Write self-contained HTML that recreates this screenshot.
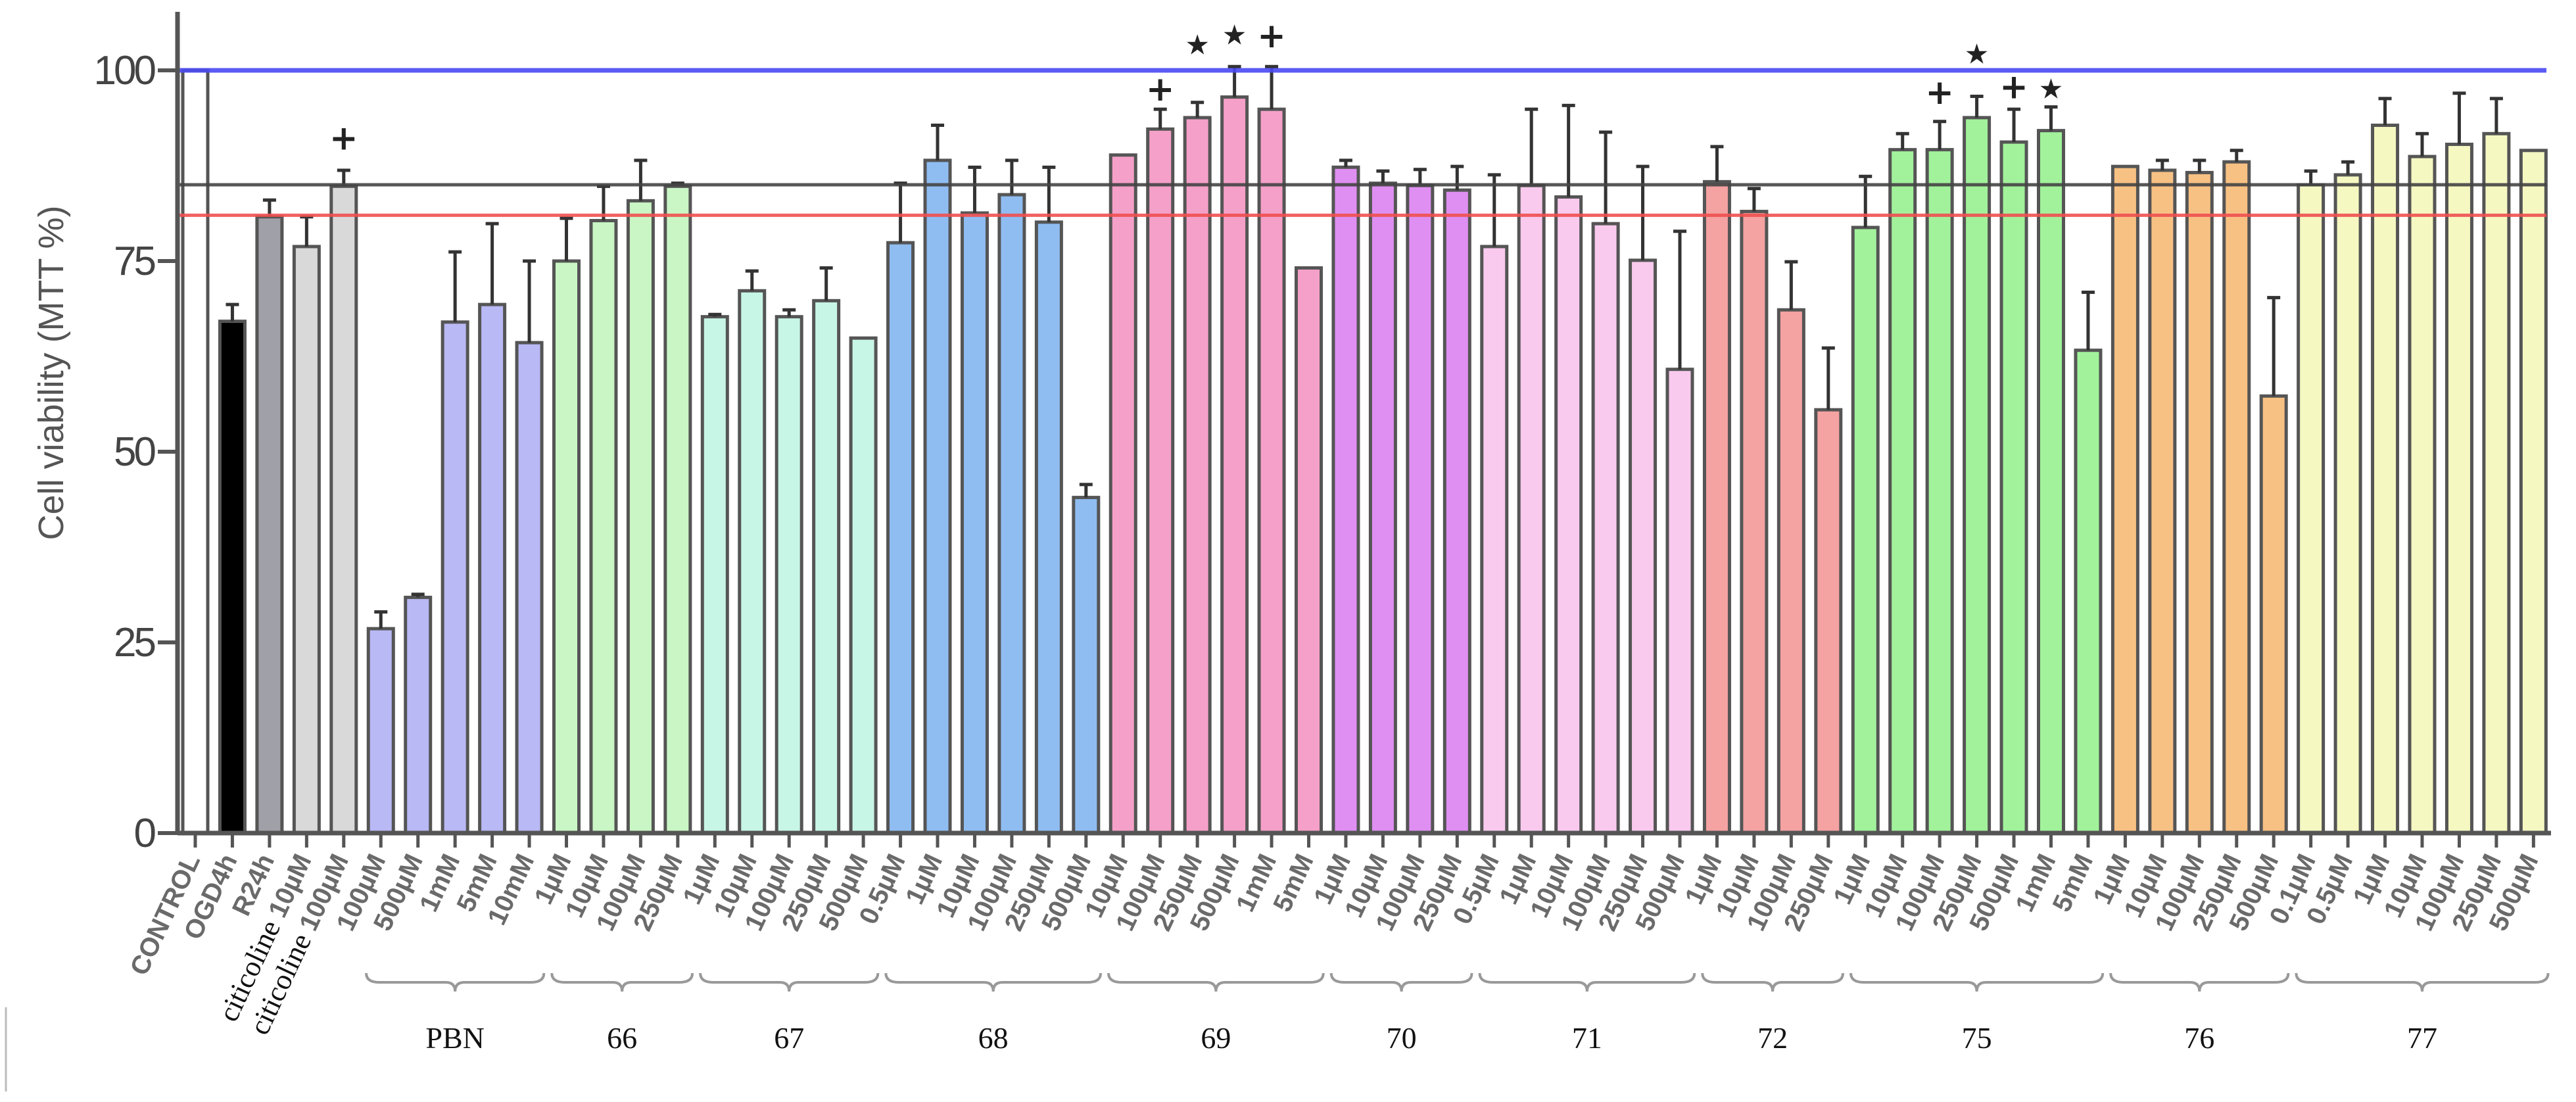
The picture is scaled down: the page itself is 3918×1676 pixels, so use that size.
<!DOCTYPE html>
<html><head><meta charset="utf-8"><style>
html,body{margin:0;padding:0;background:#fff;}
svg{display:block;}
</style></head><body>
<svg id="chart" width="3918" height="1676" viewBox="0 0 3918 1676" xmlns="http://www.w3.org/2000/svg"></svg>
<script>
const labels = ["CONTROL","OGD4h","R24h","10µM","100µM",
"100µM","500µM","1mM","5mM","10mM",
"1µM","10µM","100µM","250µM",
"1µM","10µM","100µM","250µM","500µM",
"0.5µM","1µM","10µM","100µM","250µM","500µM",
"10µM","100µM","250µM","500µM","1mM","5mM",
"1µM","10µM","100µM","250µM",
"0.5µM","1µM","10µM","100µM","250µM","500µM",
"1µM","10µM","100µM","250µM",
"1µM","10µM","100µM","250µM","500µM","1mM","5mM",
"1µM","10µM","100µM","250µM","500µM",
"0.1µM","0.5µM","1µM","10µM","100µM","250µM","500µM"];
const values = [100,67.1,80.8,76.9,84.8,
26.8,30.9,67,69.3,64.3,
75,80.3,82.9,84.8,
67.7,71.1,67.7,69.8,64.9,
77.4,88.2,81.3,83.7,80.1,44,
88.9,92.3,93.8,96.5,94.9,74.1,
87.3,85.2,84.9,84.3,
76.9,84.9,83.4,79.9,75.1,60.8,
85.4,81.5,68.6,55.5,
79.4,89.6,89.6,93.8,90.6,92.1,63.3,
87.4,86.9,86.6,88,57.3,
85,86.3,92.8,88.7,90.3,91.7,89.5];
const errTop = [null,69.3,83,80.8,86.9,
29,31.3,76.2,79.9,75,
80.6,84.8,88.2,85.2,
68,73.7,68.6,74.1,null,
85.2,92.8,87.3,88.2,87.3,45.7,
null,94.9,95.8,100.5,100.5,null,
88.2,86.8,87,87.4,
86.3,94.9,95.4,91.9,87.4,78.9,
90,84.5,74.9,63.6,
86.1,91.7,93.3,96.6,94.9,95.2,70.9,
null,88.2,88.2,89.5,70.2,
86.8,88,96.3,91.7,97,96.3,null];
const groupNames = ["PBN","66","67","68","69","70","71","72","75","76","77"];
const groupStart = [5,10,14,19,25,31,35,41,45,52,57];
const groupEnd = [9,13,18,24,30,34,40,44,51,56,63];
const groupColors = ["#b9b9f6","#c9f6c4","#c8f6e6","#8fbdf2","#f5a0c9","#df8ff2","#f9caee","#f5a2a2","#a2f29b","#f8c184","#f6f8c2"];
const markerIdx = [4,26,27,28,29,47,48,49,50];
const markerSym = ["+","+","★","★","+","+","★","+","★"];
const markerVal = [91,97.4,103.5,104.8,104.4,97,102.3,97.7,97.7];
const refValues = [100,85,81];
const refColors = ["#4a4af2","#444444","#f05050"];
const yTicks = [0,25,50,75,100];

const NS="http://www.w3.org/2000/svg";
const svg=document.getElementById('chart');
const X0=297, STEP=56.45, BW=38, AX=270, Y0=1267, PU=11.6;
const xs=i=>X0+i*STEP;
const ys=v=>Y0-v*PU;
function mk(tag,attrs,parent){const e=document.createElementNS(NS,tag);for(const k in attrs)e.setAttribute(k,attrs[k]);(parent||svg).appendChild(e);return e;}
function colorOf(i){
  if(i===0) return "#ffffff";
  if(i===1) return "#000000";
  if(i===2) return "#a0a0a8";
  if(i<=4) return "#d9d9d9";
  for(let g=0;g<groupStart.length;g++){if(i>=groupStart[g]&&i<=groupEnd[g])return groupColors[g];}
  return "#ccc";
}
for(let i=0;i<values.length;i++){
  const top=ys(values[i]);
  const r=mk('rect',{x:xs(i)-BW/2,y:top,width:BW,height:Y0-top,fill:colorOf(i),stroke:"#555",'stroke-width':5});
  
  
  if(errTop[i]!==null){
    const e=mk('path',{d:`M${xs(i)} ${top} V${ys(errTop[i])} M${xs(i)-10} ${ys(errTop[i])} H${xs(i)+10}`,stroke:"#333",'stroke-width':5,fill:"none"});
    
    
  }
}
for(let k=0;k<refValues.length;k++){
  const l=mk('line',{x1:AX,x2:3873,y1:ys(refValues[k]),y2:ys(refValues[k]),stroke:refColors[k],'stroke-width':k===0?7:5,opacity:0.9});
  
  
}
const ya=mk('line',{x1:AX,x2:AX,y1:18,y2:Y0+3,stroke:"#555",'stroke-width':7});


const xa=mk('line',{x1:AX,x2:3880,y1:Y0,y2:Y0,stroke:"#555",'stroke-width':7});


for(const t of yTicks){
  mk('line',{x1:AX-30,x2:AX,y1:ys(t),y2:ys(t),stroke:"#555",'stroke-width':6});
  const tx=mk('text',{x:AX-36,y:ys(t)+21,'text-anchor':'end','font-family':'Liberation Sans, sans-serif','font-size':62,fill:"#444",'letter-spacing':-4});
  tx.textContent=t;
  
  
}
const yt=mk('text',{x:0,y:0,transform:'translate(96,567) rotate(-90)','text-anchor':'middle','font-family':'Liberation Sans, sans-serif','font-size':54,fill:"#555"});
yt.textContent="Cell viability (MTT %)";


for(let i=0;i<labels.length;i++){
  mk('line',{x1:xs(i),x2:xs(i),y1:Y0,y2:Y0+22,stroke:"#555",'stroke-width':5});
  const lx=xs(i)+8, ly=Y0+40;
  const t=mk('text',{x:0,y:0,transform:`translate(${lx},${ly}) rotate(-65)`,'text-anchor':'end','font-family':'Liberation Sans, sans-serif','font-size':40,'font-weight':'bold',fill:"#6a6a6a"});
  if(i===3||i===4){
    const s=mk('tspan',{'font-family':'Liberation Serif, serif','font-weight':'normal',fill:'#111','font-size':44},t);
    s.textContent='citicoline ';
    const s2=mk('tspan',{},t);s2.textContent=labels[i];
  } else t.textContent=labels[i];
  
  
}
for(let k=0;k<markerIdx.length;k++){
  const m=mk('text',{x:xs(markerIdx[k]),y:ys(markerVal[k])+16,'text-anchor':'middle','font-family':'DejaVu Sans, sans-serif','font-size':markerSym[k]==='+'?52:42,'font-weight':'bold',fill:"#222"});
  m.textContent=markerSym[k];
  
  
}
for(let g=0;g<groupNames.length;g++){
  const a=xs(groupStart[g])-STEP/2+6, b=xs(groupEnd[g])+STEP/2-6, c=(a+b)/2, y=1494;
  const p=mk('path',{d:`M${a} ${y-14} Q${a} ${y} ${a+20} ${y} H${c-14} Q${c} ${y} ${c} ${y+14} Q${c} ${y} ${c+14} ${y} H${b-20} Q${b} ${y} ${b} ${y-14}`,stroke:"#999",'stroke-width':4,fill:"none"});
  
  
  const t=mk('text',{x:(xs(groupStart[g])+xs(groupEnd[g]))/2,y:1594,'text-anchor':'middle','font-family':'Liberation Serif, serif','font-size':46,fill:"#111"});
  t.textContent=groupNames[g];
  
  
}
const lb=mk('line',{x1:9,x2:9,y1:1532,y2:1660,stroke:"#bbb",'stroke-width':3});


</script>
</body></html>
